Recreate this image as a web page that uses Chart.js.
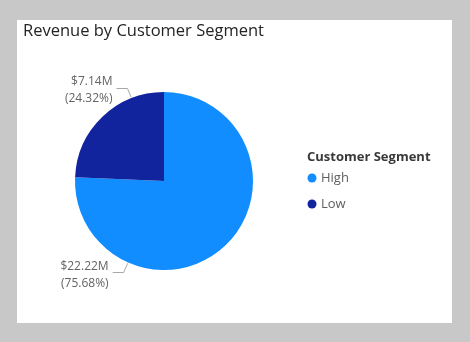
<!DOCTYPE html>
<html>
<head>
<meta charset="utf-8">
<script src="https://cdn.jsdelivr.net/npm/chart.js@4"></script>
<style>
  html, body { margin: 0; padding: 0; background: #c8c8c8; }
  #wrap { width: 470px; height: 342px; }
</style>
</head>
<body>
<div id="wrap"><canvas id="myChart" width="470" height="342"></canvas></div>
<script>
const segments = ["High", "Low"];
const revenue = [22.22, 7.14];          // $M
const shares = [75.68, 24.32];          // %
const segColors = ["#118DFF", "#12239E"];

const chartTitle = "Revenue by Customer Segment";
const legendTitle = "Customer Segment";

const FONT = "'Open Sans', 'Noto Sans', sans-serif";

// where the leader lines touch the pie, degrees clockwise from 3 o'clock
const labelAngles = [113.8, 248.6];

const cardPlugin = {
    id: "card",
    beforeDraw(chart) {
        const ctx = chart.ctx;
        ctx.save();
        ctx.fillStyle = "#c8c8c8";
        ctx.fillRect(0, 0, chart.width, chart.height);
        ctx.fillStyle = "#ffffff";
        ctx.fillRect(17, 20, 435, 303);
        ctx.fillStyle = "#252423";
        ctx.font = "16.5px " + FONT;
        ctx.textBaseline = "middle";
        ctx.fillText(chartTitle, 23, 31);
        ctx.restore();
    }
};

const labelPlugin = {
    id: "pieLabels",
    afterDatasetsDraw(chart) {
        const ctx = chart.ctx;
        const arc0 = chart.getDatasetMeta(0).data[0];
        const cx = arc0.x, cy = arc0.y, r = arc0.outerRadius;
        ctx.save();
        ctx.strokeStyle = "#a8a8a8";
        ctx.lineWidth = 1;
        ctx.fillStyle = "#666462";
        ctx.font = "12px " + FONT;
        ctx.textAlign = "right";
        ctx.textBaseline = "middle";
        revenue.forEach((v, i) => {
            const a = labelAngles[i] * Math.PI / 180;
            const px = cx + Math.cos(a) * (r + 1);
            const py = cy + Math.sin(a) * (r + 1);
            const ex = cx + Math.cos(a) * (r + 11);
            const ey = cy + Math.sin(a) * (r + 11);
            const hx = ex - 11;
            ctx.beginPath();
            ctx.moveTo(px, py);
            ctx.lineTo(ex, Math.round(ey) + 0.5);
            ctx.lineTo(hx, Math.round(ey) + 0.5);
            ctx.stroke();
            ctx.fillText("$" + v.toFixed(2) + "M", hx - 4, ey - 6);
            ctx.fillText("(" + shares[i].toFixed(2) + "%)", hx - 4, ey + 11);
        });

        // legend
        ctx.textAlign = "left";
        ctx.fillStyle = "#3a3938";
        ctx.font = "bold 13px " + FONT;
        ctx.fillText(legendTitle, 307, 157);
        ctx.font = "13px " + FONT;
        segments.forEach((s, i) => {
            const y = 178 + i * 26;
            ctx.fillStyle = segColors[i];
            ctx.beginPath();
            ctx.arc(312, y, 4.5, 0, Math.PI * 2);
            ctx.fill();
            ctx.fillStyle = "#605E5C";
            ctx.fillText(s, 321, y);
        });
        ctx.restore();
    }
};

new Chart("myChart", {
    type: "pie",
    data: {
        labels: segments,
        datasets: [{
            data: revenue,
            backgroundColor: segColors,
            borderWidth: 0
        }]
    },
    options: {
        responsive: false,
        animation: false,
        layout: { padding: { left: 75, right: 217, top: 92, bottom: 72 } },
        plugins: {
            legend: { display: false },
            title: { display: false },
            tooltip: { enabled: false }
        }
    },
    plugins: [cardPlugin, labelPlugin]
});
</script>
</body>
</html>
